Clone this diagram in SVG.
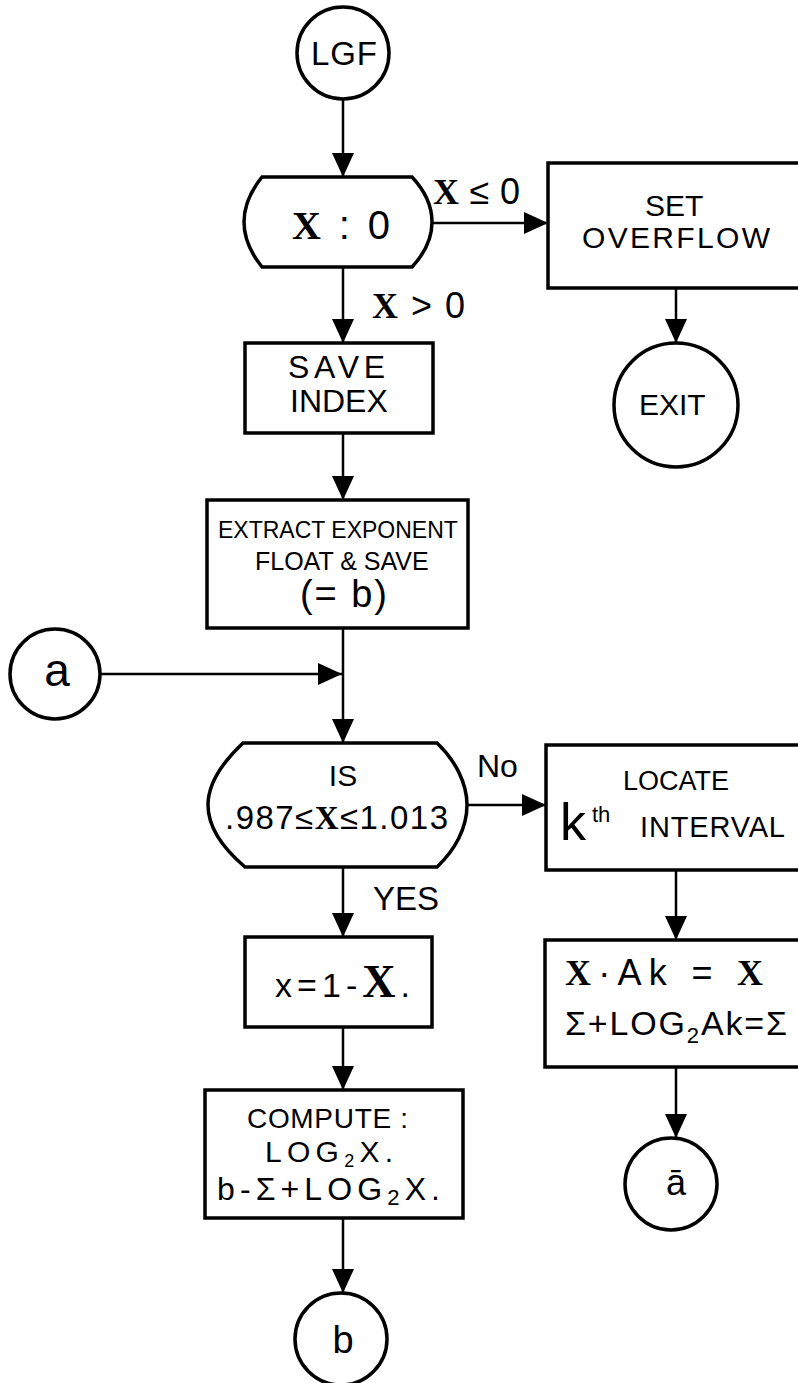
<svg xmlns="http://www.w3.org/2000/svg" width="798" height="1383" viewBox="0 0 798 1383">
<style>
.n{fill:#fff;stroke:#000;stroke-width:3.5}
.c{fill:none;stroke:#000;stroke-width:2.5}
.t{font-family:"Liberation Sans",Arial,sans-serif;fill:#000;text-anchor:middle}
.s{text-anchor:start}
.x{font-family:"Liberation Serif","Times New Roman",serif;font-weight:bold}
</style>
<defs>
<marker id="ah" viewBox="0 0 24 22" refX="24" refY="11" markerWidth="24" markerHeight="22" orient="auto" markerUnits="userSpaceOnUse">
<path d="M0,0 L24,11 L0,22 Z" fill="#000"/>
</marker>
</defs>
<rect width="798" height="1383" fill="#fff"/>
<g id="connectors">
<line class="c" x1="343" y1="99" x2="343" y2="177" marker-end="url(#ah)"/>
<line class="c" x1="432" y1="223" x2="548" y2="223" marker-end="url(#ah)"/>
<line class="c" x1="676" y1="288" x2="676" y2="343" marker-end="url(#ah)"/>
<line class="c" x1="343" y1="267" x2="343" y2="343" marker-end="url(#ah)"/>
<line class="c" x1="343" y1="433" x2="343" y2="500" marker-end="url(#ah)"/>
<line class="c" x1="100" y1="674" x2="342" y2="674" marker-end="url(#ah)"/>
<line class="c" x1="343" y1="628" x2="343" y2="743" marker-end="url(#ah)"/>
<line class="c" x1="467" y1="805" x2="546" y2="805" marker-end="url(#ah)"/>
<line class="c" x1="676" y1="870" x2="676" y2="940" marker-end="url(#ah)"/>
<line class="c" x1="676" y1="1067" x2="676" y2="1138" marker-end="url(#ah)"/>
<line class="c" x1="343" y1="867" x2="343" y2="937" marker-end="url(#ah)"/>
<line class="c" x1="343" y1="1027" x2="343" y2="1090" marker-end="url(#ah)"/>
<line class="c" x1="343" y1="1218" x2="343" y2="1293" marker-end="url(#ah)"/>
<text class="t s" x="433" y="204" font-size="36" textLength="87"><tspan class="x">X</tspan>≤0</text>
<text class="t s" x="372" y="318" font-size="36" textLength="93"><tspan class="x">X</tspan>&gt;0</text>
<text class="t s" x="477" y="777" font-size="32">No</text>
<text class="t s" x="373" y="910" font-size="33">YES</text>
</g>
<g id="lgf">
<circle class="n" cx="343" cy="53" r="46"/>
<text class="t s" x="311" y="65" font-size="33" textLength="66">LGF</text>
</g>
<g id="test-x">
<path class="n" d="M262,177 H412 C426,192 432,208 432,222 C432,238 426,252 412,267 H262 C250,252 244,238 244,222 C244,206 250,192 262,177 Z"/>
<text class="t s" x="292" y="239" font-size="40" textLength="98"><tspan class="x">X</tspan> : 0</text>
</g>
<g id="set-overflow">
<rect class="n" x="548" y="163" width="270" height="125"/>
<text class="t s" x="645" y="216" font-size="30">SET</text>
<text class="t s" x="582" y="248" font-size="30" textLength="188">OVERFLOW</text>
</g>
<g id="exit">
<circle class="n" cx="676" cy="405" r="62"/>
<text class="t s" x="639" y="415" font-size="30">EXIT</text>
</g>
<g id="save-index">
<rect class="n" x="245" y="343" width="188" height="90"/>
<text class="t s" x="288" y="378" font-size="32" textLength="97">SAVE</text>
<text class="t s" x="290" y="412" font-size="32">INDEX</text>
</g>
<g id="extract">
<rect class="n" x="207" y="500" width="261" height="128"/>
<text class="t s" x="218" y="538" font-size="23">EXTRACT EXPONENT</text>
<text class="t s" x="255" y="570" font-size="25">FLOAT &amp; SAVE</text>
<text class="t s" x="300" y="607" font-size="38" textLength="87">(= b)</text>
</g>
<g id="conn-a">
<circle class="n" cx="55" cy="674" r="45"/>
<text class="t" x="57" y="686" font-size="46">a</text>
</g>
<g id="test-range">
<path class="n" d="M243,743 H437 C455,760 467,783 467,805 C467,828 455,850 437,867 H245 C225,850 208,828 208,805 C208,782 225,760 243,743 Z"/>
<text class="t" x="343" y="786" font-size="30">IS</text>
<text class="t s" x="225" y="829" font-size="33" textLength="223">.987≤<tspan class="x">X</tspan>≤1.013</text>
</g>
<g id="locate">
<rect class="n" x="546" y="745" width="270" height="125"/>
<text class="t s" x="623" y="790" font-size="27">LOCATE</text>
<text class="t s" x="560" y="840" font-size="52">k</text>
<text class="t s" x="592" y="822" font-size="22">th</text>
<text class="t s" x="640" y="837" font-size="29" textLength="145">INTERVAL</text>
</g>
<g id="scale">
<rect class="n" x="545" y="940" width="270" height="127"/>
<text class="t s" x="565" y="985" font-size="36" textLength="198"><tspan class="x">X</tspan>·Ak = <tspan class="x">X</tspan></text>
<text class="t s" x="565" y="1035" font-size="34" textLength="222">Σ+LOG<tspan font-size="22" dy="8">2</tspan><tspan dy="-8">Ak=Σ</tspan></text>
</g>
<g id="conn-abar">
<circle class="n" cx="671" cy="1184" r="46"/>
<text class="t" x="676" y="1195" font-size="36">ā</text>
</g>
<g id="y-calc">
<rect class="n" x="245" y="937" width="187" height="90"/>
<text class="t s" x="275" y="997" font-size="34" textLength="135">x=1-<tspan class="x" font-size="46">X</tspan>.</text>
</g>
<g id="compute">
<rect class="n" x="205" y="1090" width="258" height="128"/>
<text class="t s" x="247" y="1128" font-size="28" textLength="161">COMPUTE :</text>
<text class="t s" x="265" y="1162" font-size="30" textLength="128">LOG<tspan font-size="18" dy="5">2</tspan><tspan dy="-5">X.</tspan></text>
<text class="t s" x="217" y="1200" font-size="32" textLength="223">b-Σ+LOG<tspan font-size="22" dy="5">2</tspan><tspan dy="-5">X.</tspan></text>
</g>
<g id="conn-b">
<circle class="n" cx="341" cy="1339" r="46"/>
<text class="t" x="343" y="1353" font-size="38">b</text>
</g>
</svg>
